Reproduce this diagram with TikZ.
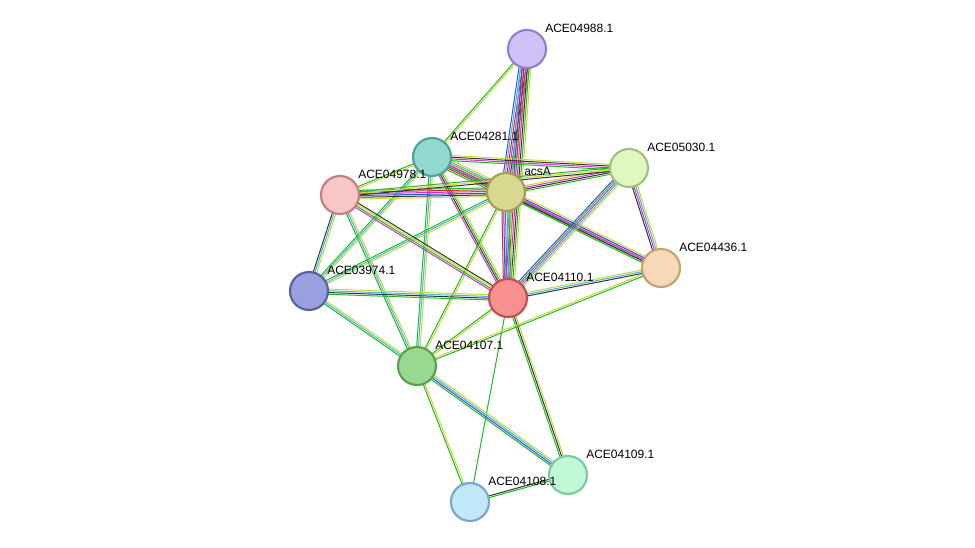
\documentclass[tikz,border=0pt]{standalone}
\usepackage{fontspec}
\setmainfont{Liberation Sans}
\usetikzlibrary{calc}
\definecolor{cg}{HTML}{22B822}
\definecolor{cy}{HTML}{C8D838}
\definecolor{ck}{HTML}{333333}
\definecolor{cm}{HTML}{D030D0}
\definecolor{cc}{HTML}{40B8E0}
\definecolor{cb}{HTML}{3050E0}
\definecolor{cr}{HTML}{E02020}
\newcommand\edg[4]{\foreach \c [count=\i] in {#4}{%
  \pgfmathsetmacro\off{(\i-(#3+1)/2)*1.3}%
  \draw[ed,draw=\c] ($(#1)!\off pt!90:(#2)$) -- ($(#2)!\off pt!-90:(#1)$);}}
\tikzset{ed/.style={line width=0.75pt},
 pn/.style={circle,minimum size=28.5pt,line width=1.6pt,inner sep=0pt},
 lb/.style={anchor=west,font=\fontsize{9}{10}\selectfont,inner sep=0pt}}
\begin{document}
\begin{tikzpicture}[x=0.75pt,y=-0.75pt]
\useasboundingbox (0,0) rectangle (975,548);
\fill[white] (0,0) rectangle (975,548);
\coordinate (a) at (527,49);
\coordinate (b) at (432,157);
\coordinate (c) at (629,168);
\coordinate (d) at (506,192);
\coordinate (e) at (340,195);
\coordinate (f) at (661,268);
\coordinate (g) at (309,291);
\coordinate (h) at (508,298);
\coordinate (i) at (417,366);
\coordinate (j) at (568,475);
\coordinate (k) at (470,502);
\edg{a}{b}{2}{cg,cy}
\edg{a}{d}{7}{cb,cc,cr,cm,ck,cg,cy}
\edg{a}{h}{7}{cc,cb,cr,cm,ck,cg,cy}
\edg{b}{d}{7}{cg,cr,cb,cm,ck,cc,cy}
\edg{b}{c}{4}{cg,cm,ck,cy}
\edg{b}{e}{2}{cg,cy}
\edg{b}{h}{4}{cm,ck,cg,cy}
\edg{b}{f}{3}{cg,cm,cy}
\edg{b}{g}{3}{cg,cc,cy}
\edg{b}{i}{3}{cg,cc,cy}
\edg{d}{c}{4}{cg,ck,cm,cy}
\edg{d}{e}{6}{cg,cr,cm,cb,ck,cy}
\edg{d}{h}{6}{cr,cb,cm,cc,cg,cy}
\edg{d}{f}{5}{cg,ck,cm,cb,cy}
\edg{d}{g}{3}{cg,cc,cy}
\edg{d}{i}{2}{cg,cy}
\edg{c}{e}{3}{cg,cy,ck}
\edg{c}{h}{5}{cb,cg,cm,cc,cy}
\edg{c}{f}{4}{ck,cm,cc,cy}
\edg{e}{g}{3}{ck,cc,cy}
\edg{e}{h}{4}{cm,cg,cy,ck}
\edg{e}{i}{3}{cg,cc,cy}
\edg{g}{h}{4}{cg,ck,cc,cy}
\edg{g}{i}{3}{cg,cc,cy}
\edg{h}{f}{3}{ck,cc,cy}
\edg{h}{i}{2}{cg,cy}
\edg{h}{j}{3}{cg,ck,cy}
\edg{h}{k}{1}{cg}
\edg{i}{f}{2}{cg,cy}
\edg{i}{j}{4}{cg,cb,cc,cy}
\edg{i}{k}{2}{cg,cy}
\edg{k}{j}{2}{cg,ck}
\node[pn,fill={rgb,255:red,208;green,192;blue,248},draw={rgb,255:red,144;green,128;blue,200}] (na) at (a) {};
\node[pn,fill={rgb,255:red,144;green,216;blue,208},draw={rgb,255:red,80;green,160;blue,152}] (nb) at (b) {};
\node[pn,fill={rgb,255:red,224;green,248;blue,192},draw={rgb,255:red,160;green,192;blue,128}] (nc) at (c) {};
\node[pn,fill={rgb,255:red,216;green,216;blue,144},draw={rgb,255:red,160;green,160;blue,80}] (nd) at (d) {};
\node[pn,fill={rgb,255:red,248;green,200;blue,200},draw={rgb,255:red,192;green,128;blue,128}] (ne) at (e) {};
\node[pn,fill={rgb,255:red,248;green,216;blue,184},draw={rgb,255:red,200;green,160;blue,112}] (nf) at (f) {};
\node[pn,fill={rgb,255:red,152;green,160;blue,224},draw={rgb,255:red,88;green,96;blue,160}] (ng) at (g) {};
\node[pn,fill={rgb,255:red,248;green,144;blue,144},draw={rgb,255:red,192;green,80;blue,80}] (nh) at (h) {};
\node[pn,fill={rgb,255:red,152;green,216;blue,144},draw={rgb,255:red,88;green,160;blue,80}] (ni) at (i) {};
\node[pn,fill={rgb,255:red,192;green,248;blue,216},draw={rgb,255:red,128;green,200;blue,160}] (nj) at (j) {};
\node[pn,fill={rgb,255:red,192;green,232;blue,248},draw={rgb,255:red,120;green,168;blue,200}] (nk) at (k) {};
\node[lb] (la) at ($(a)+(18,-21)$) {ACE04988.1};
\node[lb] (lb) at ($(b)+(18,-21)$) {ACE04281.1};
\node[lb] (lc) at ($(c)+(18,-21)$) {ACE05030.1};
\node[lb] (ld) at ($(d)+(18,-21)$) {acsA};
\node[lb] (le) at ($(e)+(18,-21)$) {ACE04978.1};
\node[lb] (lf) at ($(f)+(18,-21)$) {ACE04436.1};
\node[lb] (lg) at ($(g)+(18,-21)$) {ACE03974.1};
\node[lb] (lh) at ($(h)+(18,-21)$) {ACE04110.1};
\node[lb] (li) at ($(i)+(18,-21)$) {ACE04107.1};
\node[lb] (lj) at ($(j)+(18,-21)$) {ACE04109.1};
\node[lb] (lk) at ($(k)+(18,-21)$) {ACE04108.1};
\end{tikzpicture}
\end{document}
